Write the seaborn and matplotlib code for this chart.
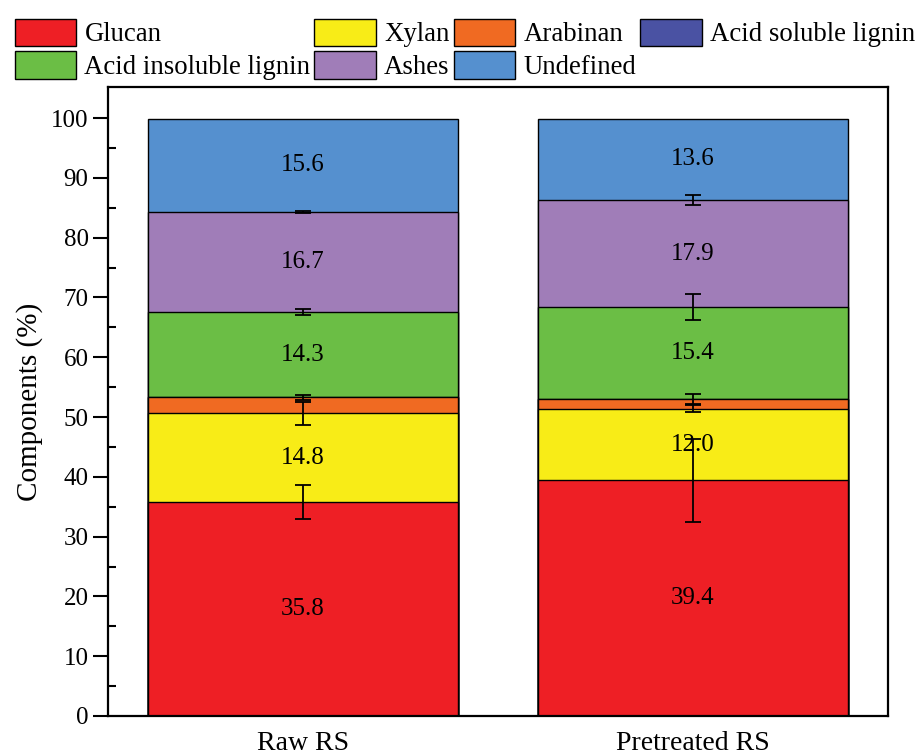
import numpy as np
import pandas as pd
import matplotlib
matplotlib.use("Agg")
import matplotlib.pyplot as plt
import seaborn as sns
from matplotlib.patches import Patch

samples = ["Raw RS", "Pretreated RS"]
components = ["Glucan", "Xylan", "Arabinan", "Acid soluble lignin",
              "Acid insoluble lignin", "Ashes", "Undefined"]
glucan = [35.8, 39.4]
xylan = [14.8, 12.0]
arabinan = [2.7, 1.6]
acid_soluble_lignin = [0.0, 0.0]
acid_insoluble_lignin = [14.3, 15.4]
ashes = [16.7, 17.9]
undefined = [15.6, 13.6]
errors_glucan = [2.9, 7.0]
errors_xylan = [2.0, 0.6]
errors_arabinan = [0.4, 0.8]
errors_asl = [0.0, 0.0]
errors_ail = [0.5, 2.1]
errors_ashes = [0.1, 0.8]
errors_undefined = [0.0, 0.0]
colors = ["#EE1F25", "#F8EC17", "#F06A22", "#4A52A3", "#6BBE45", "#A07DB8", "#5590CF"]

values = [glucan, xylan, arabinan, acid_soluble_lignin, acid_insoluble_lignin, ashes, undefined]
errors = [errors_glucan, errors_xylan, errors_arabinan, errors_asl, errors_ail, errors_ashes, errors_undefined]
show_label = [True, True, False, False, True, True, True]

sns.set_style("ticks")
plt.rcParams["font.family"] = ["Liberation Serif", "DejaVu Serif"]
plt.rcParams["mathtext.fontset"] = "stix"
for key in ["text.color", "axes.labelcolor", "xtick.color", "ytick.color",
            "xtick.labelcolor", "ytick.labelcolor", "axes.edgecolor"]:
    plt.rcParams[key] = "black"

fig = plt.figure(figsize=(9.15, 7.56), dpi=100)
ax = fig.add_axes([108 / 915, 1 - 716 / 756, 780 / 915, 629 / 756])

vals = np.array(values)
cum = np.cumsum(vals, axis=0)
bottoms = cum - vals

# Draw cumulative bars from top layer down so each overlays the previous
for i in range(len(components) - 1, -1, -1):
    df = pd.DataFrame({"sample": samples, "top": cum[i]})
    sns.barplot(data=df, x="sample", y="top", color=colors[i], width=0.795,
                edgecolor="black", linewidth=1.0, saturation=1, ax=ax, errorbar=None)

# error bars at segment tops
for i in range(len(components)):
    err = np.array(errors[i])
    mask = err > 0
    if mask.any():
        ax.errorbar(np.arange(len(samples))[mask], cum[i][mask], yerr=err[mask],
                    fmt="none", ecolor="black", elinewidth=1.3, capsize=6, capthick=1.3, zorder=5)

# value labels
for i in range(len(components)):
    if not show_label[i]:
        continue
    for j in range(len(samples)):
        ax.text(j, bottoms[i][j] + vals[i][j] / 2, f"{vals[i][j]:.1f}", ha="center", va="center",
                fontsize=18, color="black", zorder=6)

ax.set_xlim(-0.5, 1.5)
ax.set_ylim(0, 105.2)
ax.set_yticks(np.arange(0, 101, 10))
ax.set_yticks(np.arange(5, 101, 10), minor=True)
ax.tick_params(axis="y", which="major", direction="out", length=11, width=1.5, labelsize=18, pad=3,
               colors="black")
ax.tick_params(axis="y", which="minor", direction="in", length=6, width=1.5, colors="black")
ax.tick_params(axis="x", which="both", length=0, labelsize=20, pad=11, colors="black")
ax.set_xlabel("")
ax.set_ylabel("Components (%)", fontsize=21, labelpad=6, color="black")
for s in ax.spines.values():
    s.set_visible(True)
    s.set_linewidth(1.6)
    s.set_color("black")

handles = [Patch(facecolor=c, edgecolor="black", linewidth=1.0) for c in colors]
order = [0, 4, 1, 5, 2, 6, 3]
leg = fig.legend([handles[k] for k in order], [components[k] for k in order],
                 ncol=4, loc="upper left", bbox_to_anchor=(12 / 915, 1.0 - 16 / 756),
                 frameon=False, fontsize=19.3, handlelength=2.3, handleheight=1.2,
                 handletextpad=0.3, columnspacing=0.15, labelspacing=0.15, borderaxespad=0,
                 borderpad=0.1)
for t in leg.get_texts():
    t.set_color("black")

fig.savefig("out.png", dpi=100)
